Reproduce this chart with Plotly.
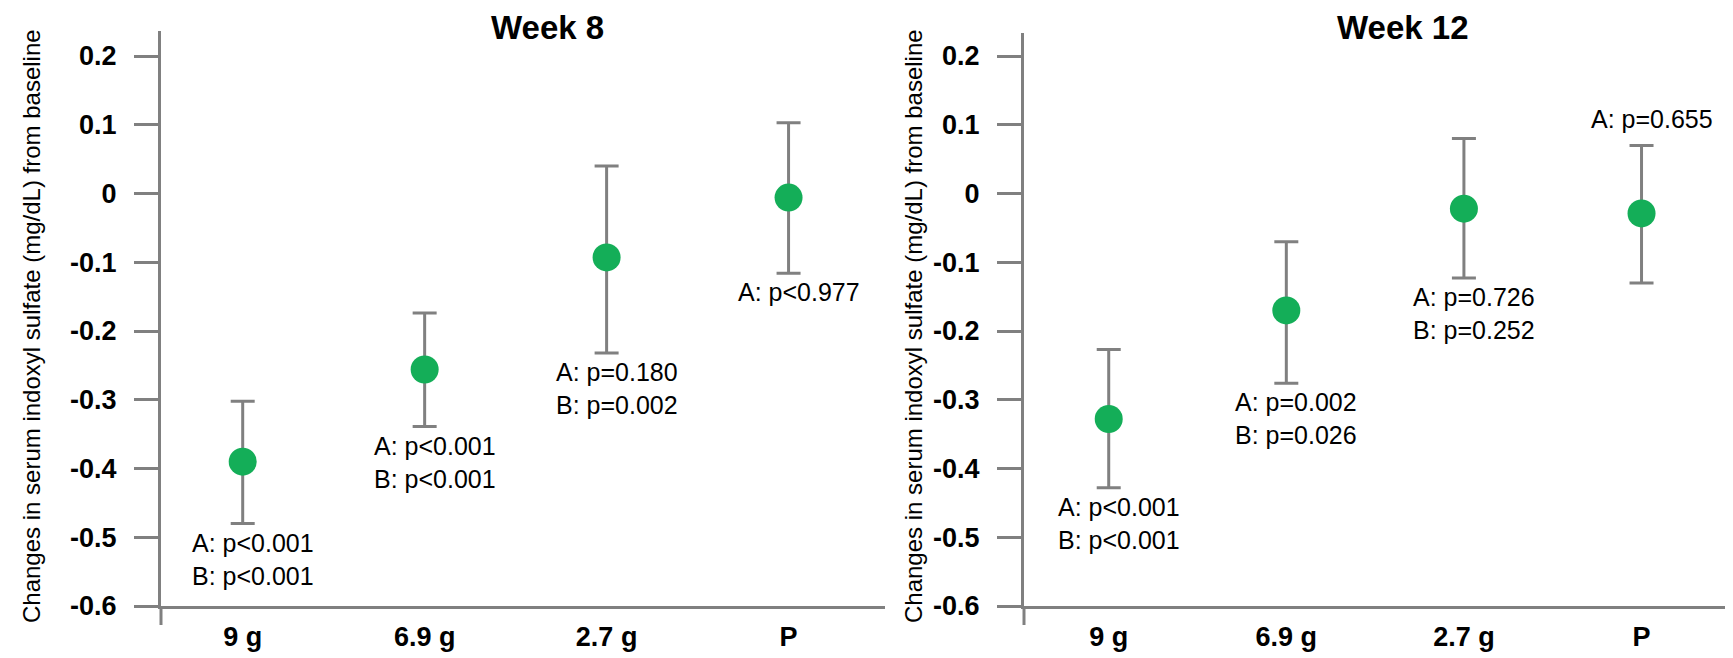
import plotly.graph_objects as go

# ---------------- data ----------------
categories = ["9 g", "6.9 g", "2.7 g", "P"]

week8_mean = [-0.390, -0.256, -0.093, -0.006]
week8_upper = [-0.302, -0.174, 0.040, 0.103]
week8_lower = [-0.480, -0.339, -0.232, -0.116]

week12_mean = [-0.328, -0.170, -0.022, -0.029]
week12_upper = [-0.227, -0.070, 0.080, 0.070]
week12_lower = [-0.428, -0.276, -0.123, -0.130]

week8_pvals = ["A: p<0.001<br>B: p<0.001", "A: p<0.001<br>B: p<0.001",
               "A: p=0.180<br>B: p=0.002", "A: p<0.977"]
week12_pvals = ["A: p<0.001<br>B: p<0.001", "A: p=0.002<br>B: p=0.026",
                "A: p=0.726<br>B: p=0.252", "A: p=0.655"]

y_tickvals = [0.2, 0.1, 0, -0.1, -0.2, -0.3, -0.4, -0.5, -0.6]
y_ticktext = ["0.2", "0.1", "0", "-0.1", "-0.2", "-0.3", "-0.4", "-0.5", "-0.6"]

panel_titles = ["Week 8", "Week 12"]
y_title = "Changes in serum indoxyl sulfate (mg/dL) from baseline"

# ---------------- style ----------------
W, H = 1733, 658
GREEN = "#14AE58"
GRAY = "#808080"
FONT = "Arial, Liberation Sans, sans-serif"

fig = go.Figure()

xs = list(range(len(categories)))

panels = [
    dict(mean=week8_mean, up=week8_upper, lo=week8_lower, pv=week8_pvals,
         xa="x", ya="y", xdom=(161 / W, 885 / W), ytop_px=31,
         xrange=[-0.449, 3.53], title_x=547 / W, ytitle_x=31 / W,
         above=[False, False, False, False]),
    dict(mean=week12_mean, up=week12_upper, lo=week12_lower, pv=week12_pvals,
         xa="x2", ya="y2", xdom=(1024 / W, 1725 / W), ytop_px=33,
         xrange=[-0.477, 3.47], title_x=1402 / W, ytitle_x=913 / W,
         above=[False, False, False, True]),
]

px_per_unit = 687.5
bottom_px = 606

annotations = []
shapes = []
for k, p in enumerate(panels):
    err_plus = [u - m for u, m in zip(p["up"], p["mean"])]
    err_minus = [m - l for m, l in zip(p["mean"], p["lo"])]
    fig.add_trace(go.Scatter(
        x=xs, y=p["mean"], mode="markers", xaxis=p["xa"], yaxis=p["ya"],
        marker=dict(color=GREEN, size=28, line=dict(width=0)),
        error_y=dict(type="data", symmetric=False, array=err_plus,
                     arrayminus=err_minus, color=GRAY, thickness=3, width=12),
        showlegend=False, hoverinfo="skip",
    ))
    ytop_val = -0.6 + (bottom_px - p["ytop_px"]) / px_per_unit
    axis_suffix = "" if k == 0 else "2"
    fig.update_layout(**{
        "xaxis" + axis_suffix: dict(
            domain=list(p["xdom"]), range=p["xrange"], anchor="y" + axis_suffix,
            tickvals=xs, ticktext=categories, ticks="", showline=True,
            linecolor=GRAY, linewidth=3, showgrid=False, zeroline=False,
            tickfont=dict(family=FONT, size=27, color="black", weight="bold"),
            ticklabelstandoff=5, fixedrange=True, automargin=False,
        ),
        "yaxis" + axis_suffix: dict(
            domain=[1 - bottom_px / H, 1 - p["ytop_px"] / H],
            range=[-0.6, ytop_val], anchor="x" + axis_suffix,
            tickvals=y_tickvals, ticktext=y_ticktext, ticks="outside",
            ticklen=24, tickwidth=3, tickcolor=GRAY, showline=True,
            linecolor=GRAY, linewidth=3, showgrid=False, zeroline=False,
            tickfont=dict(family=FONT, size=27, color="black", weight="bold"),
            ticklabelstandoff=12, fixedrange=True, automargin=False,
        ),
    })
    # downward extension of the y axis line below the x axis
    x_line = p["xdom"][0]
    shapes.append(dict(type="line", xref="paper", yref="paper",
                       x0=x_line, x1=x_line, y0=1 - bottom_px / H,
                       y1=1 - 625 / H, line=dict(color=GRAY, width=3)))
    # panel title
    annotations.append(dict(text=panel_titles[k], x=p["title_x"], y=1 - 27.5 / H,
                            xref="paper", yref="paper", showarrow=False,
                            xanchor="center", yanchor="middle",
                            font=dict(family=FONT, size=33, color="black",
                                      weight="bold")))
    # y-axis title
    annotations.append(dict(text=y_title, x=p["ytitle_x"], y=1 - 326 / H,
                            xref="paper", yref="paper", showarrow=False,
                            textangle=-90, xanchor="center", yanchor="middle",
                            font=dict(family=FONT, size=24, color="black")))
    # p-value labels
    for i, txt in enumerate(p["pv"]):
        if p["above"][i]:
            annotations.append(dict(text=txt, x=xs[i], y=p["up"][i],
                                    xref=p["xa"], yref=p["ya"], showarrow=False,
                                    xanchor="center", yanchor="bottom",
                                    xshift=10, yshift=10,
                                    font=dict(family=FONT, size=25, color="black")))
        else:
            annotations.append(dict(text=txt, x=xs[i], y=p["lo"][i],
                                    xref=p["xa"], yref=p["ya"], showarrow=False,
                                    xanchor="center", yanchor="top",
                                    xshift=10, yshift=-3,
                                    font=dict(family=FONT, size=25, color="black")))

fig.update_layout(
    width=W, height=H, margin=dict(l=0, r=0, t=0, b=0),
    paper_bgcolor="white", plot_bgcolor="white",
    annotations=annotations, shapes=shapes, showlegend=False,
)

fig.write_html("out.html", config={"displayModeBar": False})
